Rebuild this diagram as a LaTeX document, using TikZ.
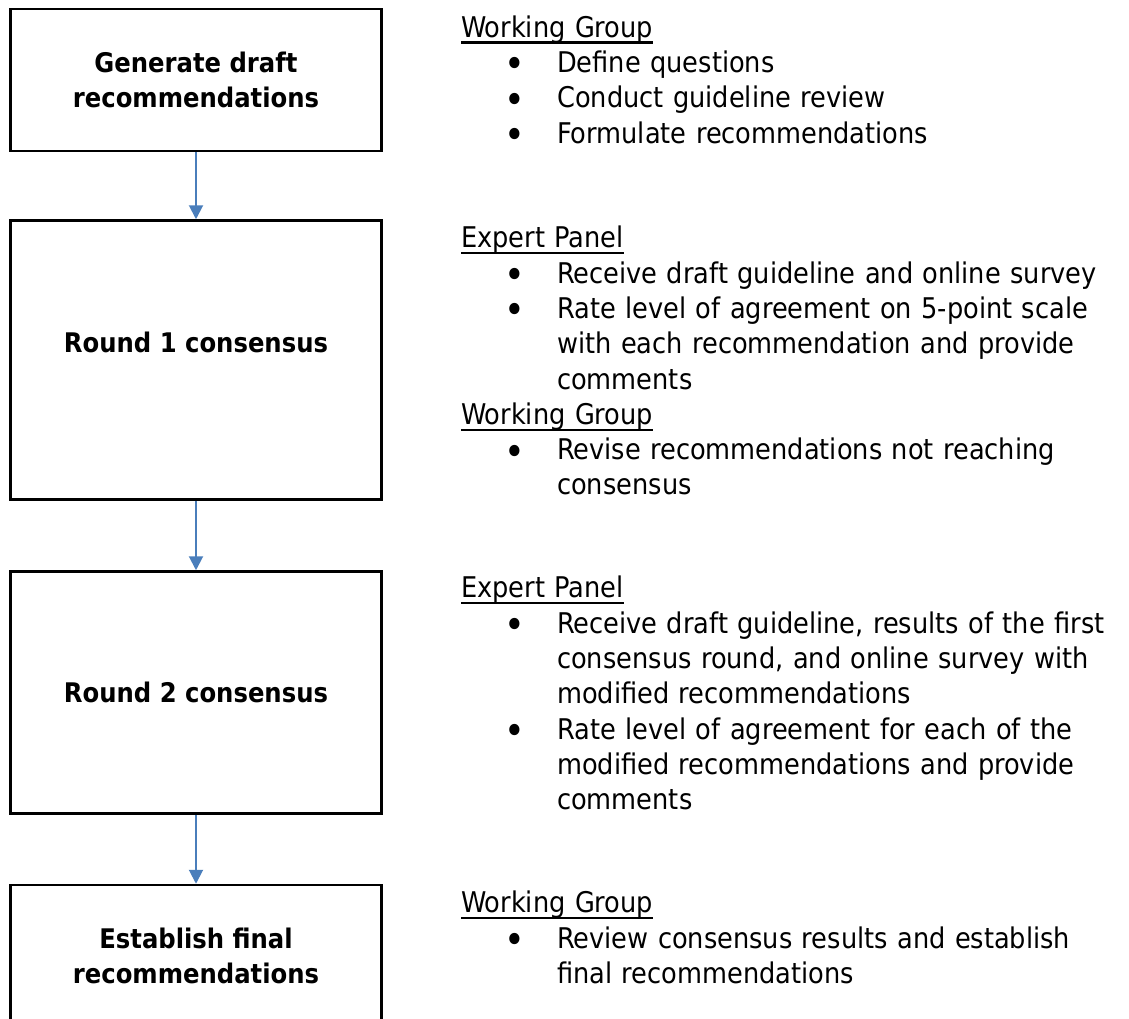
\documentclass[tikz,border=0pt]{standalone}
\usepackage{fontspec}
\setmainfont{DejaVu Sans Condensed}
\usetikzlibrary{arrows.meta}
\definecolor{flowblue}{HTML}{4A7EBB}
\newlength{\ulwd}
\newcommand{\ulhead}[1]{\noindent\settowidth{\ulwd}{#1}\rlap{\rule[-6.5pt]{\ulwd}{2.2pt}}#1}
\newcommand{\bigdot}{\makebox[0pt][c]{\raisebox{-5.5pt}{\fontsize{39}{35}\selectfont\textbullet}}}
\newenvironment{tasklist}{\begin{list}{\bigdot}{%
  \setlength{\leftmargin}{96pt}\setlength{\labelwidth}{0pt}%
  \setlength{\labelsep}{42pt}\setlength{\topsep}{0pt}%
  \setlength{\partopsep}{0pt}\setlength{\itemsep}{0pt}%
  \setlength{\parsep}{0pt}}}{\end{list}}
\tikzset{
  stagebox/.style={draw, line width=2.5pt, minimum width=371pt, inner sep=0pt,
    align=center, font=\bfseries\fontsize{27}{35}\selectfont},
  boxtext/.style={inner sep=0pt, align=center, font=\bfseries\fontsize{27}{35}\selectfont},
  notes/.style={anchor=north west, text width=665pt, inner sep=0pt, align=left,
    font=\fontsize{28.5}{35.3}\selectfont},
  flow/.style={flowblue, line width=2pt, -{Triangle[width=14pt,length=14pt]}}
}

\begin{document}
\begin{tikzpicture}[x=1pt, y=-1pt]
  \useasboundingbox (0,0) rectangle (1129,1019);
  \clip (0,0) rectangle (1129,1019);
  % stages
  \node[stagebox, minimum height=142pt] (gen) at (196,80) {Generate draft\\recommendations};
  \node[stagebox, minimum height=279pt] (r1) at (196,360) {};
  \node[boxtext] (r1lbl) at (196,342) {Round 1 consensus};
  \node[stagebox, minimum height=242pt] (r2) at (196,692.5) {Round 2 consensus};
  \node[stagebox, minimum height=142pt] (fin) at (196,956) {Establish final\\recommendations};
  \draw[flow] (gen) -- (r1);
  \draw[flow] (r1) -- (r2);
  \draw[flow] (r2) -- (fin);
  % who does what
  \node[notes] (wg1) at (461,15.3) {\ulhead{Working Group}
    \begin{tasklist}
      \item Define questions
      \item Conduct guideline review
      \item Formulate recommendations
    \end{tasklist}};
  \node[notes] (ep1) at (461,226) {\ulhead{Expert Panel}
    \begin{tasklist}
      \item Receive draft guideline and online survey
      \item Rate level of agreement on 5-point scale\\with each recommendation and provide\\comments
    \end{tasklist}
    \ulhead{Working Group}
    \begin{tasklist}
      \item Revise recommendations not reaching\\consensus
    \end{tasklist}};
  \node[notes] (ep2) at (461,576) {\ulhead{Expert Panel}
    \begin{tasklist}
      \item Receive draft guideline, results of the first\\consensus round, and online survey with\\modified recommendations
      \item Rate level of agreement for each of the\\modified recommendations and provide\\comments
    \end{tasklist}};
  \node[notes] (wg2) at (461,891) {\ulhead{Working Group}
    \begin{tasklist}
      \item Review consensus results and establish\\final recommendations
    \end{tasklist}};
\end{tikzpicture}
\end{document}
